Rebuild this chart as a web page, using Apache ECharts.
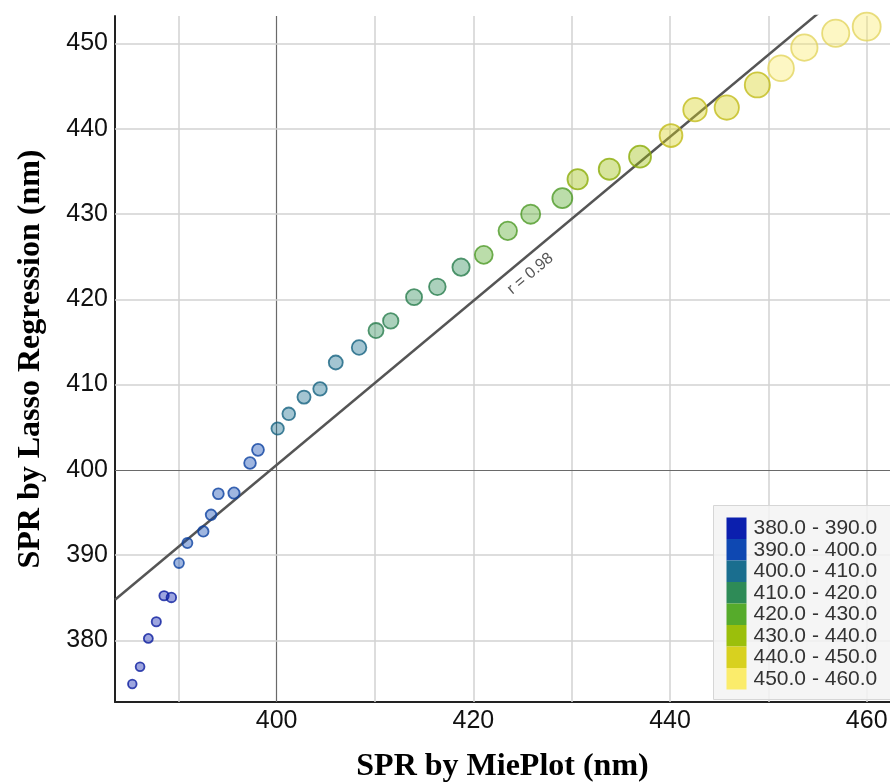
<!DOCTYPE html>
<html>
<head>
<meta charset="utf-8">
<title>SPR comparison</title>
<script src="https://cdn.jsdelivr.net/npm/echarts@6/dist/echarts.min.js"></script>
<style>
  html, body { margin: 0; padding: 0; background: #fff; }
  #main { width: 890px; height: 782px; }
</style>
</head>
<body>
<div id="main"></div>
<script>
// values
const mieSpr = [385.32, 386.11, 386.95, 387.76, 388.55, 389.29, 390.07, 390.92, 392.54, 393.33,
  394.07, 395.66, 397.29, 398.10, 400.10, 401.23, 402.78, 404.41, 406.01, 408.38,
  410.10, 411.60, 413.97, 416.34, 418.75, 421.06, 423.50, 425.83, 429.05, 430.61,
  433.83, 436.95, 440.10, 442.54, 445.77, 448.88, 451.29, 453.66, 456.85, 460.00];
const lassoSpr = [374.89, 376.92, 380.23, 382.19, 385.24, 385.04, 389.07, 391.42, 392.78, 394.73,
  397.20, 397.28, 400.80, 402.35, 404.85, 406.57, 408.53, 409.50, 412.59, 414.35,
  416.34, 417.47, 420.25, 421.46, 423.77, 425.21, 428.03, 429.98, 431.86, 434.08,
  435.26, 436.73, 439.20, 442.24, 442.48, 445.14, 447.10, 449.51, 451.20, 451.97];

// fitted line end points and its label
const fitLine = [[383.56, 384.77], [462.37, 460.56]];
const fitText = 'r = 0.98';
const fitTextAt = [425.8, 423.0];

// colour bins (legend)
const binLows = [380, 390, 400, 410, 420, 430, 440, 450];
const binColors = ['#0b1fae', '#0e48b2', '#1a6e8f', '#2e8b57', '#56ab2b', '#9bbf0b', '#d8d11f', '#fbec6b'];
const binWidth = 10;

// grid lines and tick labels
const xGrid = [390, 400, 410, 420, 430, 440, 450, 460];
const yGrid = [380, 390, 400, 410, 420, 430, 440, 450];
const xLabels = [400, 420, 440, 460];
const yLabels = [380, 390, 400, 410, 420, 430, 440, 450];

function hexRgb (h) {
  return [parseInt(h.slice(1, 3), 16), parseInt(h.slice(3, 5), 16), parseInt(h.slice(5, 7), 16)];
}
function rgba (h, a) {
  const c = hexRgb(h);
  return 'rgba(' + c[0] + ',' + c[1] + ',' + c[2] + ',' + a + ')';
}
function darker (h, k) {
  const c = hexRgb(h).map(v => Math.round(v * (1 - k)));
  return 'rgb(' + c.join(',') + ')';
}
function binOf (x) {
  let i = Math.floor((x - binLows[0]) / binWidth);
  return Math.max(0, Math.min(binLows.length - 1, i));
}

const points = mieSpr.map((x, i) => {
  const col = binColors[binOf(x)];
  return {
    value: [x, lassoSpr[i]],
    itemStyle: { color: rgba(col, 0.5), borderColor: darker(col, 0.1) }
  };
});

const lightGrid = { color: '#d2d2d2', width: 1.5, type: 'solid' };
const darkGrid = { color: '#6a6a6a', width: 1.2, type: 'solid' };
const gridLines = [].concat(
  xGrid.map(v => ({ xAxis: v, lineStyle: v === 400 ? darkGrid : lightGrid })),
  yGrid.map(v => ({ yAxis: v, lineStyle: v === 400 ? darkGrid : lightGrid }))
);

const tickFont = { fontFamily: 'Liberation Sans', fontSize: 25, color: '#111' };
const titleFont = { fontFamily: 'Liberation Serif', fontSize: 32, fontWeight: 'bold', color: '#000' };

const option = {
  animation: false,
  backgroundColor: '#fff',
  grid: { left: 115, top: 16, right: 0, bottom: 80, containLabel: false, outerBoundsMode: 'none' },
  xAxis: {
    type: 'value',
    min: 383.56,
    max: 462.37,
    splitNumber: 8,
    name: 'SPR by MiePlot (nm)',
    nameLocation: 'middle',
    nameGap: 49,
    nameTextStyle: titleFont,
    axisLine: { show: true, lineStyle: { color: '#222', width: 2 } },
    axisTick: { show: false },
    splitLine: { show: false },
    axisLabel: Object.assign({
      margin: 7,
      showMinLabel: false,
      showMaxLabel: false,
      formatter: v => (xLabels.indexOf(v) >= 0 ? String(v) : '')
    }, tickFont)
  },
  yAxis: {
    type: 'value',
    min: 372.78,
    max: 453.22,
    splitNumber: 8,
    name: 'SPR by Lasso Regression (nm)',
    nameLocation: 'middle',
    nameGap: 68,
    nameTextStyle: titleFont,
    axisLine: { show: true, lineStyle: { color: '#222', width: 2 } },
    axisTick: { show: false },
    splitLine: { show: false },
    axisLabel: Object.assign({
      margin: 7,
      showMinLabel: false,
      showMaxLabel: false,
      formatter: v => (yLabels.indexOf(v) >= 0 ? String(v) : '')
    }, tickFont)
  },
  visualMap: {
    type: 'piecewise',
    seriesIndex: 3,
    dimension: 0,
    orient: 'vertical',
    inverse: true,
    align: 'left',
    left: 713,
    top: 505,
    itemWidth: 20,
    itemHeight: 21.5,
    itemGap: 0,
    textGap: 7,
    itemSymbol: 'rect',
    padding: [12, 40, 10, 13],
    backgroundColor: 'rgba(243,243,243,0.85)',
    borderColor: '#d6d6d6',
    borderWidth: 1,
    selectedMode: false,
    hoverLink: false,
    textStyle: { fontFamily: 'Liberation Sans', fontSize: 21, color: '#333' },
    pieces: binLows.map((lo, i) => ({
      min: lo,
      max: lo + binWidth,
      color: binColors[i],
      label: lo.toFixed(1) + ' - ' + (lo + binWidth).toFixed(1)
    }))
  },
  series: [
    {
      type: 'scatter',
      data: [],
      silent: true,
      z: 1,
      markLine: {
        silent: true,
        symbol: 'none',
        animation: false,
        z: 1,
        label: { show: false },
        data: gridLines
      }
    },
    {
      type: 'line',
      data: fitLine,
      showSymbol: false,
      symbol: 'none',
      clip: true,
      silent: true,
      z: 2,
      lineStyle: { color: '#555', width: 2.5 },
      markPoint: {
        symbol: 'circle',
        symbolSize: 0,
        silent: true,
        z: 2,
        data: [{ coord: fitTextAt, value: fitText }],
        label: {
          show: true,
          position: 'inside',
          rotate: 40,
          formatter: fitText,
          fontFamily: 'Liberation Sans',
          fontSize: 16,
          color: '#555'
        }
      }
    },
    {
      type: 'scatter',
      data: points,
      z: 3,
      symbolSize: v => 8.5 + (v[0] - 385) * 0.26,
      itemStyle: { borderWidth: 1.8 }
    },
    {
      type: 'scatter',
      data: [],
      silent: true
    }
  ]
};

const myChart = echarts.init(document.getElementById('main'));
myChart.setOption(option);
</script>
</body>
</html>
